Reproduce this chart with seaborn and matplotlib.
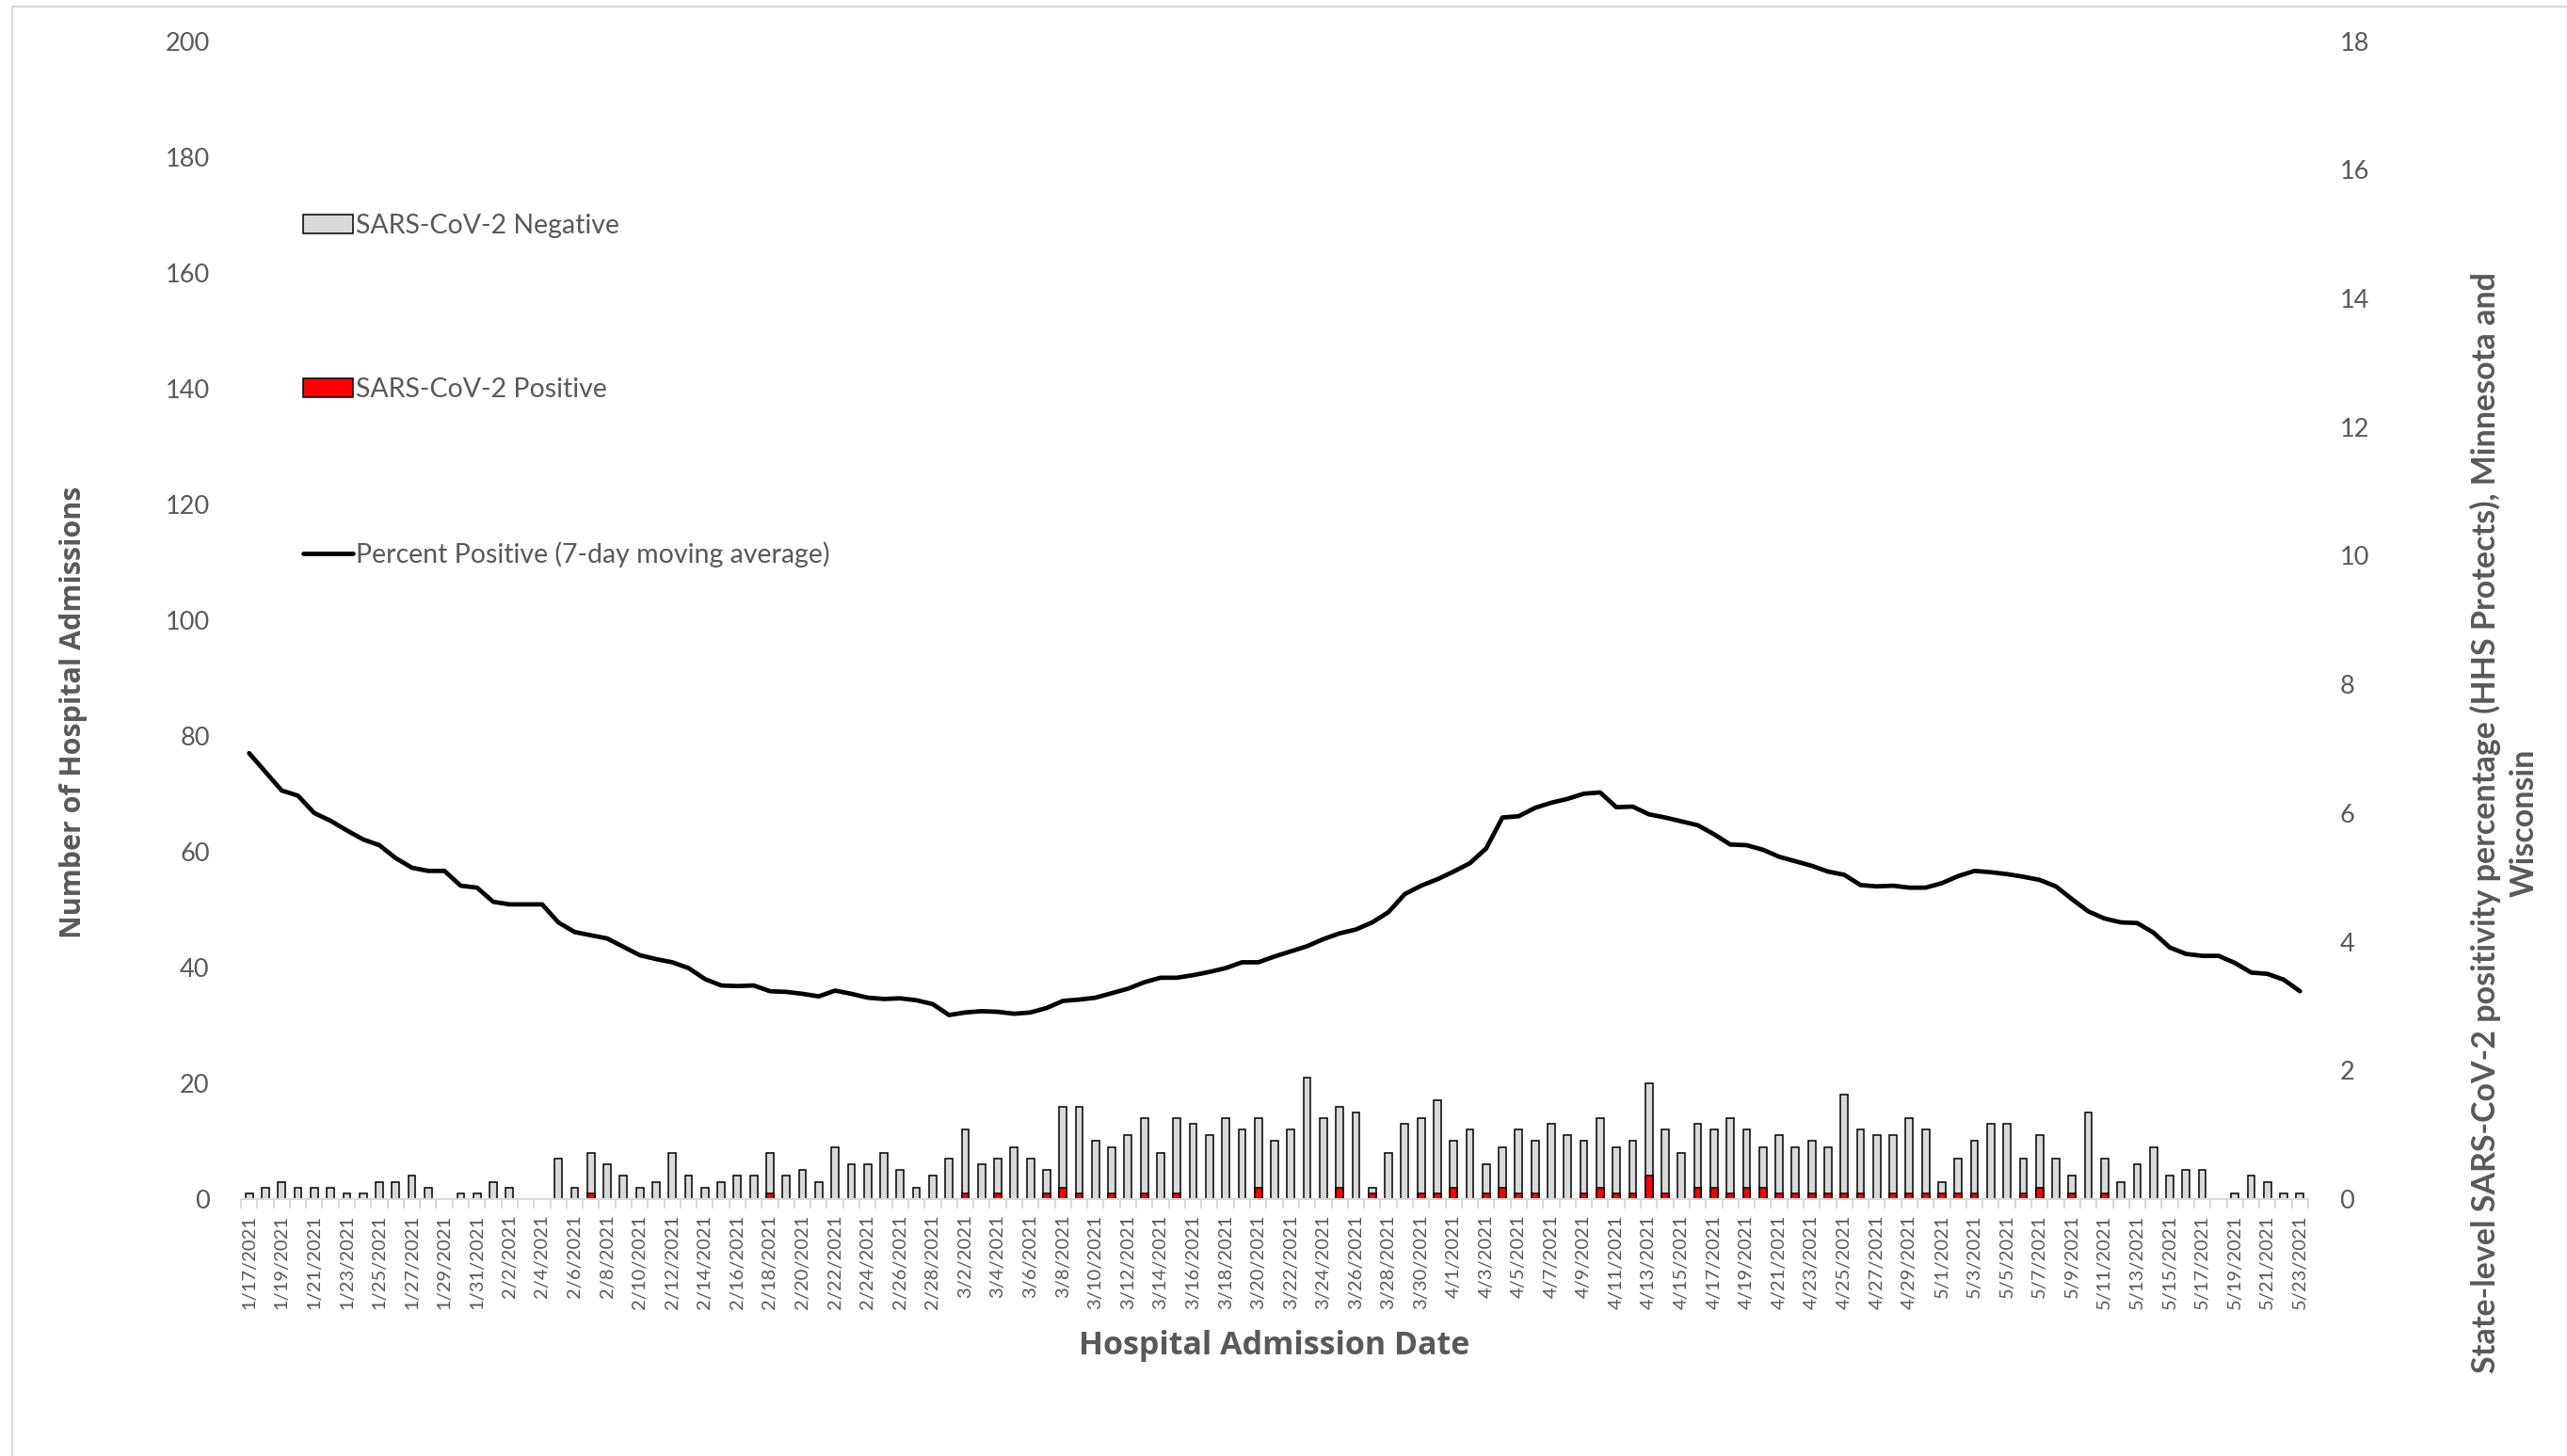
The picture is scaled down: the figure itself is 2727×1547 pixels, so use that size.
import numpy as np
import pandas as pd
import matplotlib
matplotlib.use("Agg")
import matplotlib.pyplot as plt
import seaborn as sns
from matplotlib.patches import Patch
from matplotlib.lines import Line2D

# ---- data -------------------------------------------------------------
dates = pd.date_range("2021-01-17", "2021-05-23", freq="D")
date_labels = [f"{d.month}/{d.day}/{d.year}" for d in dates]

negative = (
    # Jan 17-31
    [1, 2, 3, 2, 2, 2, 1, 1, 3, 3, 4, 2, 0, 1, 1]
    # Feb
    + [3, 2, 0, 0, 7, 2, 7, 6, 4, 2, 3, 8, 4, 2, 3, 4, 4, 7, 4, 5, 3, 9, 6, 6, 8, 5, 2, 4]
    # Mar
    + [7, 11, 6, 6, 9, 7, 4, 14, 15, 10, 8, 11, 13, 8, 13, 13, 11, 14, 12, 12, 10, 12,
       21, 14, 14, 15, 1, 8, 13, 13, 16]
    # Apr
    + [8, 12, 5, 7, 11, 9, 13, 11, 9, 12, 8, 9, 16, 11, 8, 11, 10, 13, 10, 7, 10, 8, 9,
       8, 17, 11, 11, 10, 13, 11]
    # May 1-23
    + [2, 6, 9, 13, 13, 6, 9, 7, 3, 15, 6, 3, 6, 9, 4, 5, 5, 0, 1, 4, 3, 1, 1]
)

positive = (
    [0] * 15
    + [0, 0, 0, 0, 0, 0, 1, 0, 0, 0, 0, 0, 0, 0, 0, 0, 0, 1, 0, 0, 0, 0, 0, 0, 0, 0, 0, 0]
    + [0, 1, 0, 1, 0, 0, 1, 2, 1, 0, 1, 0, 1, 0, 1, 0, 0, 0, 0, 2, 0, 0, 0, 0, 2, 0, 1,
       0, 0, 1, 1]
    + [2, 0, 1, 2, 1, 1, 0, 0, 1, 2, 1, 1, 4, 1, 0, 2, 2, 1, 2, 2, 1, 1, 1, 1, 1, 1, 0,
       1, 1, 1]
    + [1, 1, 1, 0, 0, 1, 2, 0, 1, 0, 1, 0, 0, 0, 0, 0, 0, 0, 0, 0, 0, 0, 0]
)

pct_positive = [
    6.93, 6.64, 6.35, 6.27, 6.00, 5.88, 5.73, 5.59, 5.50, 5.30, 5.15, 5.10, 5.10, 4.87,
    4.84, 4.62, 4.58, 4.58, 4.58, 4.30, 4.15, 4.10, 4.05, 3.92, 3.79, 3.73, 3.68, 3.59,
    3.42, 3.32, 3.31, 3.32,
    3.23, 3.22, 3.19, 3.15, 3.24, 3.19, 3.13, 3.11, 3.12, 3.09, 3.03, 2.86, 2.90, 2.92,
    2.91, 2.88, 2.90, 2.97, 3.08, 3.10, 3.13, 3.20, 3.27, 3.37, 3.44, 3.44, 3.48, 3.53,
    3.59, 3.68, 3.68, 3.77,
    3.85, 3.93, 4.04, 4.13, 4.19, 4.30, 4.46, 4.74, 4.87, 4.97, 5.09, 5.22, 5.45, 5.93,
    5.95, 6.08, 6.16, 6.22, 6.30, 6.32, 6.09, 6.10, 5.98, 5.93, 5.87, 5.81, 5.67, 5.51,
    5.50, 5.43, 5.32, 5.25,
    5.18, 5.09, 5.04, 4.88, 4.86, 4.87, 4.84, 4.84, 4.91, 5.02, 5.10, 5.08, 5.05, 5.01,
    4.96, 4.86, 4.66, 4.47, 4.36, 4.30, 4.29, 4.14, 3.91, 3.81, 3.78, 3.78, 3.67, 3.52,
    3.50, 3.41, 3.23,
]

left_ticks = list(range(0, 201, 20))
right_ticks = list(range(0, 19, 2))

# ---- styling ----------------------------------------------------------
sns.set_theme(style="white")
plt.rcParams["font.family"] = ["Lato", "DejaVu Sans"]
TXT = "#595959"
AXIS_GREY = "#d9d9d9"

W, H = 2727, 1547
fig = plt.figure(figsize=(W / 100, H / 100), dpi=100)
ax = fig.add_axes([256 / W, 1 - 1274 / H, (2452 - 256) / W, (1274 - 43.5) / H])

df = pd.DataFrame({"date": date_labels, "neg": negative, "pos": positive})
df["total"] = df["neg"] + df["pos"]
n = len(df)

# stacked bars: full height in grey, positive share in red at the base
sns.barplot(data=df, x="date", y="total", color="#d9d9d9", edgecolor="black",
            linewidth=1.1, width=0.45, saturation=1, errorbar=None, ax=ax)
sns.barplot(data=df, x="date", y="pos", color="#ff0000", edgecolor="black",
            linewidth=1.1, width=0.45, saturation=1, errorbar=None, ax=ax)
for p in ax.patches:
    if p.get_height() == 0:
        p.set_visible(False)

ax.set_ylim(0, 200)
ax.set_yticks(left_ticks)
ax.set_xlabel("")
ax.set_ylabel("")

# secondary axis: 7-day moving average of percent positive
ax2 = ax.twinx()
sns.lineplot(x=np.arange(n), y=pct_positive, ax=ax2, color="black", linewidth=3.4,
             solid_joinstyle="round", solid_capstyle="round")
ax2.set_ylim(0, 18)
ax2.set_yticks(right_ticks)
ax2.set_ylabel("")
ax.set_xlim(-0.5, n - 0.5)

# x ticks: label every other day, tick marks between categories
ax.set_xticks(np.arange(0, n, 2))
ax.set_xticklabels(date_labels[::2], rotation=90)
ax.set_xticks(np.arange(-0.5, n, 1), minor=True)
ax.tick_params(axis="x", which="major", length=0, pad=12, labelsize=14.5, labelcolor=TXT)
ax.tick_params(axis="x", which="minor", length=7, width=1.5, color=AXIS_GREY, bottom=True)
ax.tick_params(axis="y", length=0, pad=24, labelsize=19.5, labelcolor=TXT)
ax2.tick_params(axis="y", length=0, pad=24, labelsize=19.5, labelcolor=TXT)

for a in (ax, ax2):
    for s in a.spines.values():
        s.set_visible(False)
ax.spines["bottom"].set_visible(True)
ax.spines["bottom"].set_color(AXIS_GREY)
ax.spines["bottom"].set_linewidth(1.5)
ax.grid(False)
ax2.grid(False)

# axis titles
fig.text(78 / W, 1 - 757 / H, "Number of Hospital Admissions", rotation=90,
         ha="center", va="center", fontsize=22, fontweight="bold", color=TXT,
         family=["Open Sans", "DejaVu Sans"])
fig.text(1354 / W, 1 - 1430 / H, "Hospital Admission Date",
         ha="center", va="center", fontsize=24.5, fontweight="bold", color=TXT,
         family=["Open Sans", "DejaVu Sans"])
fig.text(2661 / W, 1 - 874 / H,
         "State-level SARS-CoV-2 positivity percentage (HHS Protects), Minnesota and\nWisconsin",
         rotation=90, ha="center", va="center", multialignment="center",
         fontsize=24.5, fontweight="bold", color=TXT, linespacing=1.35)

# legend
handles = [
    Patch(facecolor="#d9d9d9", edgecolor="black", linewidth=1.1),
    Patch(facecolor="#ff0000", edgecolor="black", linewidth=1.1),
    Line2D([], [], color="black", linewidth=3.4),
]
labels = ["SARS-CoV-2 Negative", "SARS-CoV-2 Positive",
          "Percent Positive (7-day moving average)"]
fig.legend(handles, labels, loc="upper left", bbox_to_anchor=(322 / W, 1 - 227 / H),
           frameon=False, fontsize=20.5, handlelength=1.85, handleheight=0.7,
           handletextpad=0.12, labelspacing=5.2, borderpad=0, borderaxespad=0,
           labelcolor=TXT)

# chart-area border
fig.add_artist(Line2D([13 / W, 13 / W], [0, 1 - 7 / H], color=AXIS_GREY, lw=1.5,
                      transform=fig.transFigure))
fig.add_artist(Line2D([13 / W, 1], [1 - 7 / H, 1 - 7 / H], color=AXIS_GREY, lw=1.5,
                      transform=fig.transFigure))

fig.savefig("out.png", dpi=100, facecolor="white")
